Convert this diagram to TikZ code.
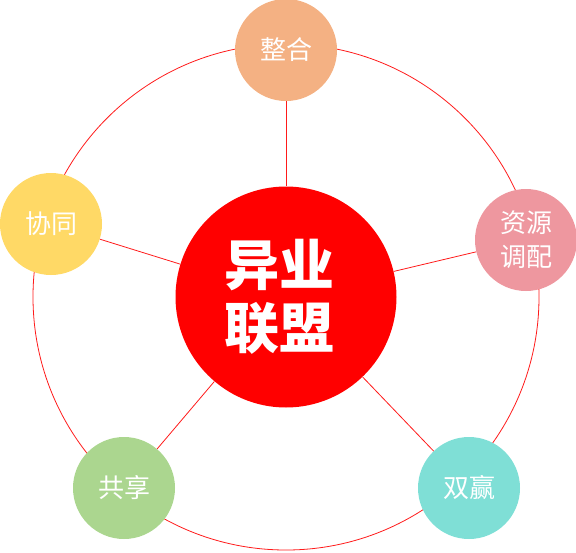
\documentclass[tikz,border=0pt]{standalone}
\usepackage{fontspec}
\newfontfamily\cjk{Noto Sans CJK SC}
\definecolor{ring}{HTML}{FF1A1A}
\definecolor{core}{HTML}{FF0000}
\definecolor{peach}{HTML}{F4B183}
\definecolor{sun}{HTML}{FFD966}
\definecolor{rose}{HTML}{EE979F}
\definecolor{leaf}{HTML}{ABD68F}
\definecolor{aqua}{HTML}{7FDFD6}

\begin{document}
\begin{tikzpicture}[x=1pt,y=-1pt,every node/.style={font=\cjk,text=white},ball/.style={circle,minimum size=102pt,inner sep=0pt,align=center,font=\cjk\fontsize{26}{34}\selectfont},hub/.style={circle,fill=core,minimum size=221pt,inner sep=0pt,align=center,font=\cjk\bfseries\fontsize{55}{63}\selectfont},spoke/.style={ring,line width=.8pt}]
\path[use as bounding box] (0,0) rectangle (576,552);

\draw[spoke] (286,297) circle (253pt);
\node[hub] (hub) at (286,297) {\hspace*{-14pt}异业\\\hspace*{-14pt}联盟};
\node[ball,fill=peach] (zhenghe) at (286,50) {整合};
\node[ball,fill=sun] (xietong) at (51,224) {协同};
\node[ball,fill=rose] (ziyuan) at (526,240) {资源\\调配};
\node[ball,fill=leaf] (gongxiang) at (124,488) {共享};
\node[ball,fill=aqua] (shuangying) at (469,488) {双赢};
\foreach \n in {zhenghe,xietong,ziyuan,gongxiang,shuangying}
  \draw[spoke] (hub) -- (\n);

\end{tikzpicture}
\end{document}
